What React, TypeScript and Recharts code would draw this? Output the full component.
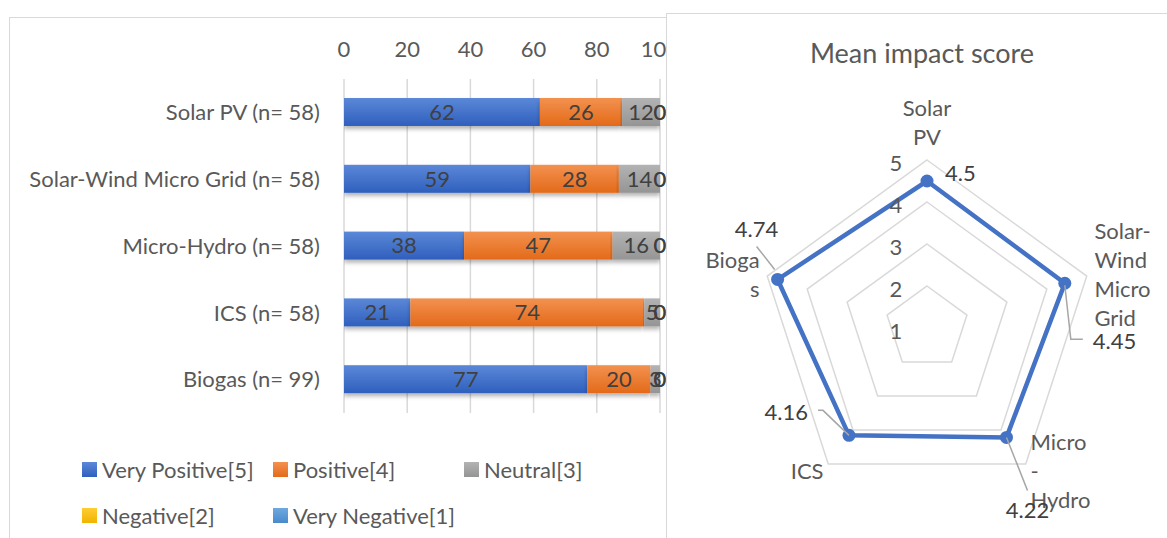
import React from "react";
import {
  BarChart,
  Bar,
  XAxis,
  YAxis,
  CartesianGrid,
  LabelList,
  RadarChart,
  Radar,
  PolarGrid,
  PolarAngleAxis,
  PolarRadiusAxis,
} from "recharts";

// Share of respondents (%) per rating, one entry per technology
const technologies = [
  "Solar PV (n= 58)",
  "Solar-Wind Micro Grid (n= 58)",
  "Micro-Hydro (n= 58)",
  "ICS (n= 58)",
  "Biogas (n= 99)",
];
const veryPositive = [62, 59, 38, 21, 77];
const positive = [26, 28, 47, 74, 20];
const neutral = [12, 14, 16, 5, 3];
const negative = [0, 0, 0, 0, 0];
const veryNegative = [0, 0, 0, 0, 0];
const percentTicks = [0, 20, 40, 60, 80, 100];

// Mean impact score per technology
const radarCategories = ["Solar PV", "Solar-Wind Micro Grid", "Micro-Hydro", "ICS", "Biogas"];
const radarLabelLines = [["Solar", "PV"], ["Solar-", "Wind", "Micro", "Grid"], ["Micro", "-", "Hydro"], ["ICS"], ["Bioga", "s"]];
const meanScores = [4.5, 4.45, 4.22, 4.16, 4.74];
const scoreTicks = [1, 2, 3, 4, 5];

const FONT = "Lato, 'Open Sans', sans-serif";
const AXIS_TEXT = "#595959";
const LABEL_TEXT = "#404040";
const GRID = "#d9d9d9";

const series = [
  { key: "veryPositive", name: "Very Positive[5]", top: "#5b88d8", bottom: "#2f5fbd" },
  { key: "positive", name: "Positive[4]", top: "#f3914f", bottom: "#e36a1a" },
  { key: "neutral", name: "Neutral[3]", top: "#b3b3b3", bottom: "#959595" },
  { key: "negative", name: "Negative[2]", top: "#ffcc33", bottom: "#f0b400" },
  { key: "veryNegative", name: "Very Negative[1]", top: "#6ea8e0", bottom: "#4a8acb" },
];

const barData = technologies.map((name, i) => ({
  name,
  veryPositive: veryPositive[i],
  positive: positive[i],
  neutral: neutral[i],
  negative: negative[i],
  veryNegative: veryNegative[i],
}));

const radarData = radarCategories.map((name, i) => ({ name, score: meanScores[i] }));

// leader lines and label placement around each radar point
const scoreLabelLayout = [
  { leader: [] as number[][], dx: 18, dy: -9, anchor: "start" },
  { leader: [[0, 2], [6, 56], [18, 56]], dx: 28, dy: 57, anchor: "start" },
  { leader: [[0, 0], [21, 53]], dx: 21, dy: 72, anchor: "middle" },
  { leader: [[0, 0], [-26, -25], [-31, -25]], dx: -41, dy: -24, anchor: "end" },
  { leader: [[-3, -10], [-21, -33]], dx: -21, dy: -51, anchor: "middle" },
];

const BarShape = (props: any) => {
  const { x, y, width, height, fill } = props;
  if (!width || width <= 0) return null;
  return <rect x={x} y={y} width={width} height={height} fill={fill} filter="url(#barShadow)" />;
};

const AngleTick = (props: any) => {
  const { x, y, textAnchor, payload } = props;
  const idx = radarCategories.indexOf(payload.value);
  const lines = radarLabelLines[idx] || [payload.value];
  const lh = 29;
  const firstY = textAnchor === "middle" ? y - 16 - (lines.length - 1) * lh : y - ((lines.length - 1) * lh) / 2;
  return (
    <text textAnchor={textAnchor} fill={AXIS_TEXT} fontSize={22} fontFamily={FONT}>
      {lines.map((l, i) => (
        <tspan key={i} x={x} y={firstY + i * lh} dominantBaseline="central">
          {l}
        </tspan>
      ))}
    </text>
  );
};

const RadiusTick = (props: any) => {
  const { x, y, payload } = props;
  return (
    <text x={x - 31} y={y + 2} textAnchor="middle" dominantBaseline="central" fill={AXIS_TEXT} fontSize={22} fontFamily={FONT}>
      {payload.value}
    </text>
  );
};

const ScoreDot = (props: any) => {
  const { cx, cy, index } = props;
  const value = props.payload?.value ?? meanScores[index];
  const lay = scoreLabelLayout[index];
  return (
    <g>
      <circle cx={cx} cy={cy} r={6.5} fill="#4472c4" />
      {lay.leader.length > 1 && (
        <polyline
          points={lay.leader.map(([a, b]) => `${cx + a},${cy + b}`).join(" ")}
          fill="none"
          stroke="#a6a6a6"
          strokeWidth={1.5}
        />
      )}
      <text
        x={cx + lay.dx}
        y={cy + lay.dy}
        textAnchor={lay.anchor as any}
        dominantBaseline="central"
        fill={LABEL_TEXT}
        fontSize={22}
        fontFamily={FONT}
      >
        {value}
      </text>
    </g>
  );
};

const Legend = () => (
  <div style={{ position: "absolute", left: 0, top: 0 }}>
    {series.map((s, i) => {
      const row = i < 3 ? 0 : 1;
      const col = i < 3 ? i : i - 3;
      return (
        <div
          key={s.key}
          style={{
            position: "absolute",
            left: 82 + col * 191,
            top: 469 + row * 46 - 14,
            height: 28,
            display: "flex",
            alignItems: "center",
            whiteSpace: "nowrap",
            fontFamily: FONT,
            fontSize: 22,
            color: AXIS_TEXT,
          }}
        >
          <span
            style={{
              width: 15,
              height: 15,
              marginRight: 5,
              background: `linear-gradient(${s.top}, ${s.bottom})`,
              display: "inline-block",
            }}
          />
          {s.name}
        </div>
      );
    })}
  </div>
);

export default function App() {
  return (
    <div style={{ position: "absolute", left: 0, top: 0, width: 1167, height: 538, overflow: "hidden", background: "#fff" }}>
      <div style={{ position: "absolute", left: 9, top: 17, width: 720, height: 560, border: `1.5px solid ${GRID}`, boxSizing: "border-box" }} />
      <div style={{ position: "absolute", left: 0, top: 0 }}>
        <BarChart
          width={700}
          height={538}
          data={barData}
          layout="vertical"
          margin={{ top: 49, right: 40, bottom: 125, left: 0 }}
          barCategoryGap={0}
        >
          <defs>
            {series.map((s) => (
              <linearGradient key={s.key} id={`grad-${s.key}`} x1="0" y1="0" x2="0" y2="1">
                <stop offset="0%" stopColor={s.top} />
                <stop offset="100%" stopColor={s.bottom} />
              </linearGradient>
            ))}
            <filter id="barShadow" x="-5%" y="-20%" width="110%" height="160%">
              <feDropShadow dx="0" dy="3" stdDeviation="2" floodColor="#000" floodOpacity="0.3" />
            </filter>
          </defs>
          <CartesianGrid horizontal={false} stroke={GRID} strokeWidth={1.5} />
          <XAxis
            type="number"
            orientation="top"
            domain={[0, 100]}
            allowDataOverflow
            ticks={percentTicks}
            height={30}
            axisLine={false}
            tickLine={false}
            tickSize={0}
            tickMargin={22}
            tick={{ fill: AXIS_TEXT, fontSize: 22, fontFamily: FONT }}
          />
          <YAxis
            type="category"
            dataKey="name"
            width={344}
            axisLine={false}
            tickLine={false}
            tickSize={0}
            tickMargin={24}
            tick={{ fill: AXIS_TEXT, fontSize: 22, fontFamily: FONT }}
          />
          {series.map((s) => (
            <Bar
              key={s.key}
              dataKey={s.key}
              name={s.name}
              stackId="rating"
              barSize={28}
              fill={`url(#grad-${s.key})`}
              shape={BarShape}
              isAnimationActive={false}
            >
              <LabelList dataKey={s.key} position="center" fill={LABEL_TEXT} fontSize={22} fontFamily={FONT} />
            </Bar>
          ))}
        </BarChart>
      </div>
      <Legend />
      <div
        style={{
          position: "absolute",
          left: 666,
          top: 13,
          width: 520,
          height: 560,
          background: "#fff",
          border: `1.5px solid ${GRID}`,
          boxSizing: "border-box",
        }}
      />
      <div
        style={{
          position: "absolute",
          left: 666,
          top: 36,
          width: 512,
          textAlign: "center",
          fontFamily: FONT,
          fontSize: 27,
          color: AXIS_TEXT,
        }}
      >
        Mean impact score
      </div>
      <div style={{ position: "absolute", left: 666, top: 13 }}>
        <RadarChart width={501} height={525} data={radarData} cx={261} cy={315} outerRadius={168}>
          <PolarGrid gridType="polygon" radialLines={false} stroke={GRID} strokeWidth={1.5} />
          <PolarAngleAxis dataKey="name" tick={AngleTick} tickLine={false} axisLine={false} />
          <PolarRadiusAxis angle={90} domain={[1, 5]} ticks={scoreTicks} tick={RadiusTick} axisLine={false} tickLine={false} />
          <Radar
            dataKey="score"
            stroke="#4472c4"
            strokeWidth={4.5}
            fill="none"
            fillOpacity={0}
            dot={ScoreDot}
            isAnimationActive={false}
          />
        </RadarChart>
      </div>
    </div>
  );
}
